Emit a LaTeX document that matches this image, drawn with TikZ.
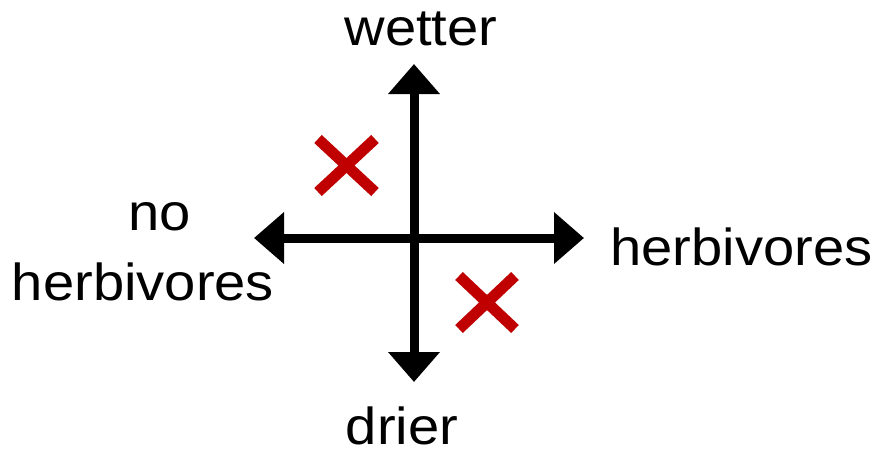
\documentclass[tikz,border=0pt]{standalone}
\usepackage{fontspec}
\setmainfont{Liberation Sans}[FakeStretch=1.08]
\usetikzlibrary{arrows.meta}
\definecolor{crossred}{RGB}{192,0,0}
\begin{document}
\begin{tikzpicture}[x=1pt,y=-1pt,
  axis/.style={line width=9pt,-{Triangle[width=50pt,length=30pt]}},
  cross/.style={line width=11pt,crossred},
  lab/.style={font=\fontsize{52}{58}\selectfont,inner sep=0pt,anchor=base}]
\useasboundingbox (0,0) rectangle (879,451);
\coordinate (c) at (414,238);
\coordinate (up) at (414,64);
\coordinate (down) at (414,382);
\coordinate (left) at (254,238);
\coordinate (right) at (584,238);
\draw[axis] (c) -- (up);
\draw[axis] (c) -- (down);
\draw[axis] (c) -- (left);
\draw[axis] (c) -- (right);
\coordinate (a1) at (318,139); \coordinate (a2) at (375,192);
\coordinate (a3) at (375,139); \coordinate (a4) at (318,192);
\draw[cross] (a1) -- (a2);
\draw[cross] (a3) -- (a4);
\coordinate (b1) at (459,276); \coordinate (b2) at (515,329);
\coordinate (b3) at (515,276); \coordinate (b4) at (459,329);
\draw[cross] (b1) -- (b2);
\draw[cross] (b3) -- (b4);
\node[lab] (wet) at (421,45) {wetter};
\node[lab] (dry) at (402,444) {drier};
\node[lab,anchor=base west] (herb) at (610,265) {herbivores};
\node[lab] (no) at (160,230) {no};
\node[lab] (noherb) at (143,300) {herbivores};
\end{tikzpicture}
\end{document}
